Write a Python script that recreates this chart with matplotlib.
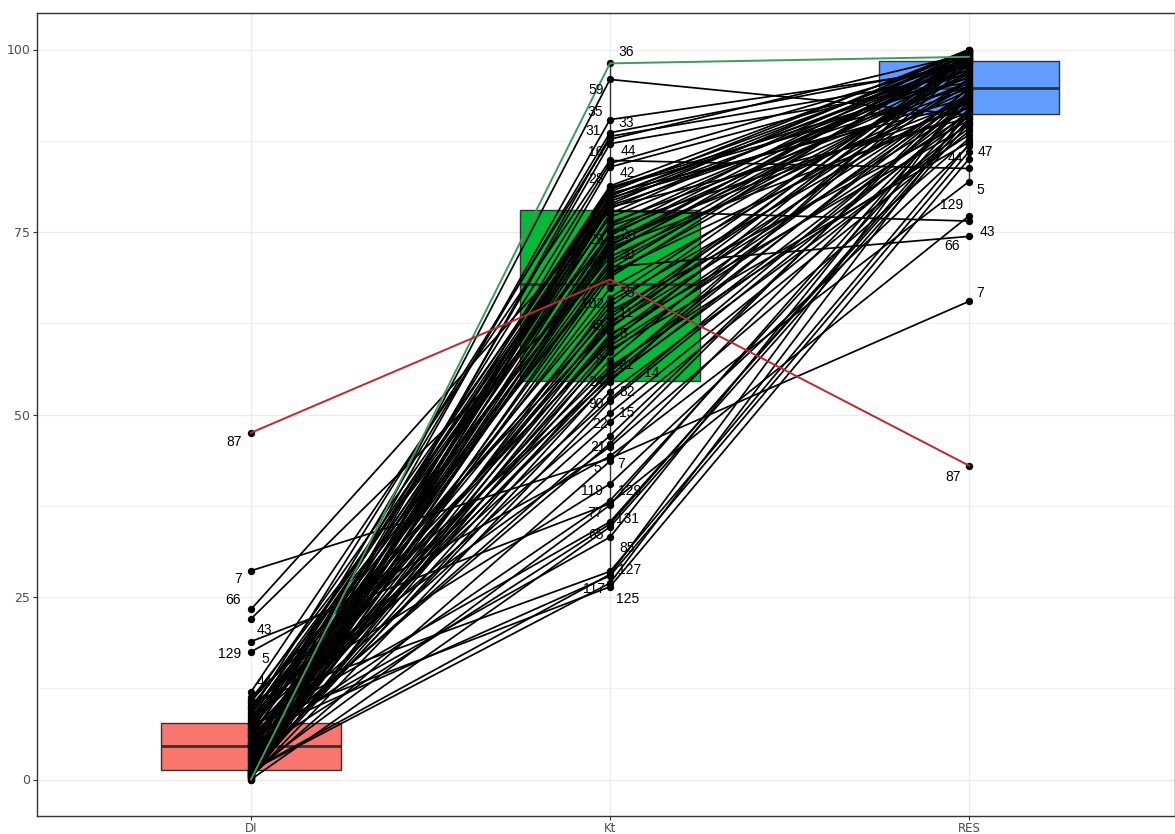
import matplotlib
matplotlib.use("Agg")
import matplotlib.pyplot as plt
import numpy as np

# Subject data (one entry per subject)
ids = [36, 59, 35, 33, 31, 2, 16, 44, 3, 42,
       4, 28, 6, 10, 12, 13, 17, 18, 19, 23,
       25, 26, 32, 34, 37, 66, 38, 39, 1, 40,
       41, 46, 48, 49, 20, 50, 29, 51, 52, 30,
       53, 54, 56, 57, 43, 27, 58, 60, 61, 87,
       62, 55, 102, 63, 64, 11, 67, 68, 45, 69,
       70, 71, 8, 72, 73, 74, 47, 75, 9, 76,
       81, 78, 14, 79, 24, 80, 82, 83, 90, 15,
       22, 21, 5, 7, 84, 86, 88, 89, 129, 119,
       131, 77, 91, 65, 85, 127, 92, 117, 125, 93]

di = [0.0, 1.1, 3.2, 6.4, 0.9, 9.2, 2.4, 12.0, 5.5, 0.2,
      8.3, 1.7, 7.1, 0.7, 4.0, 10.5, 0.3, 7.7, 2.9, 5.8,
      1.2, 8.8, 3.6, 0.6, 6.7, 23.3, 2.0, 9.7, 0.8, 4.6,
      7.4, 1.3, 11.0, 3.9, 0.1, 6.1, 2.7, 8.0, 0.9, 5.1,
      1.9, 10.0, 4.3, 0.4, 22.0, 6.8, 2.2, 9.0, 1.0, 47.5,
      3.5, 7.0, 0.6, 5.3, 2.5, 8.5, 1.5, 4.8, 0.2, 10.8,
      6.2, 3.0, 0.5, 7.6, 9.5, 2.8, 0.7, 5.0, 3.3, 8.1,
      1.0, 6.5, 4.5, 11.3, 0.8, 5.9, 1.6, 7.7, 0.3, 6.9,
      3.8, 10.2, 17.5, 28.6, 0.5, 4.9, 4.2, 9.9, 18.9, 1.1,
      7.2, 3.4, 0.0, 5.6, 10.6, 1.3, 6.0, 1.2, 7.5, 4.6]

kt = [98.1, 95.9, 90.4, 88.6, 88.1, 87.7, 87.1, 84.8, 84.4, 83.9,
      81.3, 81.1, 81.0, 80.8, 80.5, 80.3, 80.0, 79.9, 79.7, 79.5,
      79.2, 78.8, 78.6, 78.4, 78.2, 77.9, 77.5, 77.0, 76.3, 76.0,
      75.8, 75.0, 74.8, 74.5, 74.0, 73.6, 73.3, 73.1, 72.9, 72.5,
      72.2, 71.6, 71.0, 70.6, 70.2, 69.9, 69.5, 69.2, 68.8, 68.5,
      67.3, 66.0, 65.5, 64.8, 64.2, 63.7, 63.2, 62.7, 62.4, 62.1,
      61.8, 61.0, 60.7, 60.2, 59.8, 59.4, 58.9, 58.5, 57.5, 56.6,
      56.2, 55.8, 55.3, 54.9, 54.7, 54.5, 53.1, 52.1, 51.8, 50.2,
      47.1, 45.6, 44.3, 44.0, 43.6, 49.0, 46.0, 40.5, 37.8, 37.6,
      35.3, 35.0, 34.6, 33.2, 28.5, 28.1, 27.9, 26.9, 26.4, 38.2]

res = [99.0, 91.0, 97.5, 98.0, 96.5, 99.4, 95.5, 83.7, 98.6, 97.1,
       99.7, 96.1, 94.9, 98.8, 100.0, 92.6, 97.9, 99.2, 93.4, 98.5,
       96.9, 99.9, 95.3, 90.6, 98.2, 76.5, 99.5, 97.3, 94.7, 98.4,
       92.0, 100.0, 96.3, 99.1, 93.0, 98.7, 95.7, 99.6, 91.4, 97.7,
       99.8, 94.4, 98.9, 96.7, 74.4, 99.3, 92.8, 97.0, 100.0, 43.0,
       95.1, 98.3, 93.7, 99.0, 90.3, 96.0, 98.8, 94.0, 99.5, 92.2,
       98.4, 89.6, 95.9, 93.5, 99.2, 91.2, 87.3, 94.6, 98.6, 88.3,
       93.8, 98.1, 94.7, 90.8, 92.4, 99.8, 89.2, 93.2, 91.6, 90.0,
       94.1, 87.8, 81.9, 65.5, 92.9, 88.8, 95.0, 86.8, 77.2, 93.6,
       90.5, 91.2, 89.9, 94.3, 87.0, 94.5, 86.0, 91.8, 85.0, 91.9]

groups = ["DI", "Kt", "RES"]
box_colors = ["#F8766D", "#00BA38", "#619CFF"]
highlight = {87: "#C0282E", 36: "#3C9B5E"}

# labelled subjects per group, with label offsets in pixels (dx, dy down)
di_offsets = {87: (-17, 9), 7: (-13, 8), 66: (-18, -9), 43: (13, 11),
              129: (-21, 12), 5: (14, 7), 44: (13, -10)}
kt_offsets = {36: (16, -11), 59: (-14, 11), 35: (-15, -8), 33: (16, -10),
              31: (-17, -5), 16: (-14, 8), 44: (18, -9), 42: (17, 6),
              28: (-14, -8), 1: (-12, -5), 20: (18, -4), 29: (-14, -4),
              30: (17, 5), 27: (-14, -7), 55: (17, -5), 102: (-17, 3),
              11: (16, -1), 45: (-14, 2), 8: (13, -2), 9: (-11, 0),
              81: (16, -4), 14: (42, -3), 24: (-14, 2), 82: (17, 0),
              90: (-14, 3), 15: (17, 0), 22: (-10, -12), 21: (-12, 0),
              5: (-13, 12), 7: (11, 6), 129: (20, -13), 119: (-18, -14),
              131: (18, -3), 77: (-15, -11), 65: (-14, -2), 85: (17, -23),
              127: (20, -4), 117: (-16, 6), 125: (18, 12)}
res_offsets = {44: (-14, -10), 47: (16, 10), 5: (11, 8), 129: (-17, -11),
               43: (18, -4), 66: (-17, 25), 7: (11, -8), 87: (-16, 11)}

fig = plt.figure(figsize=(11.75, 8.34), dpi=100)
ax = fig.add_axes([37 / 1175, 18 / 834, 1 - 37 / 1175, 803 / 834])
plt.rcParams['font.family'] = ['Liberation Sans', 'DejaVu Sans']

vals = [np.array(di), np.array(kt), np.array(res)]
pos = [1, 2, 3]

# boxes
bp = ax.boxplot(vals, positions=pos, widths=0.5, patch_artist=True,
                showfliers=False, showcaps=False, whis=1.5,
                medianprops=dict(color="#333333", linewidth=2.0),
                boxprops=dict(edgecolor="#333333", linewidth=1.0),
                whiskerprops=dict(color="#333333", linewidth=1.0),
                zorder=1)
for patch, c in zip(bp["boxes"], box_colors):
    patch.set_facecolor(c)

# subject lines and points
for i, sid in enumerate(ids):
    y = [di[i], kt[i], res[i]]
    if sid in highlight:
        continue
    ax.plot(pos, y, color="black", linewidth=1.25, zorder=2)
for i, sid in enumerate(ids):
    if sid in highlight:
        ax.plot(pos, [di[i], kt[i], res[i]], color=highlight[sid],
                linewidth=1.4, zorder=4)
ax.scatter(np.repeat(pos, len(ids)), np.concatenate(vals), s=28,
           color="black", zorder=3, linewidths=0)

# labels
for g, offsets in enumerate([di_offsets, kt_offsets, res_offsets]):
    for sid, (dx, dy) in offsets.items():
        i = ids.index(sid)
        ax.annotate(str(sid), (pos[g], vals[g][i]), xytext=(dx, -dy),
                    textcoords="offset pixels", ha="center", va="center",
                    fontsize=10, color="black", zorder=5)

# theme_bw look
ax.set_xlim(0.404, 3.574)
ax.set_ylim(-5, 105)
ax.set_yticks([0, 25, 50, 75, 100])
ax.set_yticks([12.5, 37.5, 62.5, 87.5], minor=True)
ax.set_xticks(pos)
ax.set_xticklabels(groups)
ax.grid(which="major", color="#EBEBEB", linewidth=1.0, zorder=0)
ax.grid(which="minor", axis="y", color="#EBEBEB", linewidth=0.5, zorder=0)
ax.set_axisbelow(True)
ax.tick_params(axis="both", which="major", length=3, color="#333333",
               labelsize=9, labelcolor="#4D4D4D", pad=2)
ax.tick_params(axis="x", which="major", pad=1, labelsize=8.5)
ax.tick_params(axis="y", which="minor", length=0)
for s in ax.spines.values():
    s.set_color("#333333")
    s.set_linewidth(1.0)

fig.savefig("out.png", dpi=100)
